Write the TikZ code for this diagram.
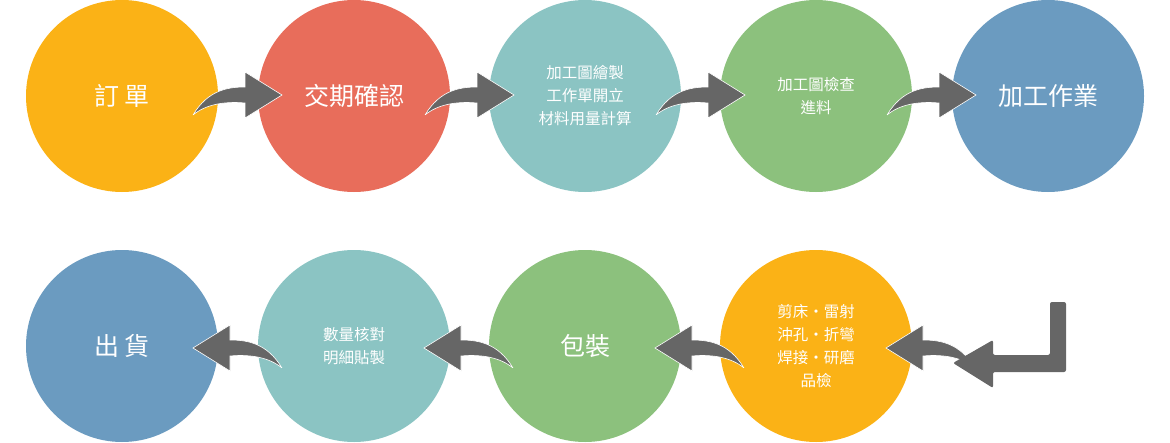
\documentclass[tikz,border=0pt]{standalone}
\usepackage{fontspec}
\setmainfont{Noto Sans CJK TC}
\definecolor{cor}{HTML}{FBB216}
\definecolor{cre}{HTML}{E86D5B}
\definecolor{cte}{HTML}{8BC4C3}
\definecolor{cgr}{HTML}{8CC17D}
\definecolor{cbl}{HTML}{6B9BC0}
\definecolor{agr}{HTML}{666666}
\tikzset{
 circ/.style={circle,minimum size=192pt,inner sep=0pt,text=white,align=center},
 big/.style={circ,font=\fontsize{25}{30}\selectfont},
 small/.style={circ,font=\fontsize{15.5}{23}\selectfont},
 carrow/.pic={\fill[agr,draw=white,line width=0.6pt] (0,0) .. controls (15,-25) and (35,-28) .. (52,-28) -- (52,-43) -- (89,-20) -- (52,3) -- (52,-12) .. controls (30,-14) and (12,-10) .. (0,0);}
}
\begin{document}
\begin{tikzpicture}[x=1pt,y=-1pt]
\useasboundingbox (0,0) rectangle (1170,442);
\node[big,fill=cor] (a1) at (122,96) {訂\,單};
\node[big,fill=cre] (a2) at (354,96) {交期確認};
\node[small,fill=cte] (a3) at (585,96) {加工圖繪製\\工作單開立\\材料用量計算};
\node[small,fill=cgr] (a4) at (816,96) {加工圖檢查\\進料};
\node[big,fill=cbl] (a5) at (1048,96) {加工作業};
\node[big,fill=cbl] (b1) at (122,346) {出\,貨};
\node[small,fill=cte] (b2) at (354,346) {數量核對\\明細貼製};
\node[big,fill=cgr] (b3) at (585,346) {包裝};
\node[small,fill=cor] (b4) at (816,346) {剪床・雷射\\沖孔・折彎\\焊接・研磨\\品檢};
\foreach \x in {193,425,656,887} \pic at (\x,115) {carrow};
\foreach \x in {282,513,744,975} \pic[xscale=-1] at (\x,368) {carrow};
\fill[agr,rounded corners=2pt] (1050,302) -- (1066,302) -- (1066,372) -- (993,372) -- (993,388) -- (953,363) -- (993,340) -- (993,355) -- (1050,355) -- cycle;
\end{tikzpicture}
\end{document}
